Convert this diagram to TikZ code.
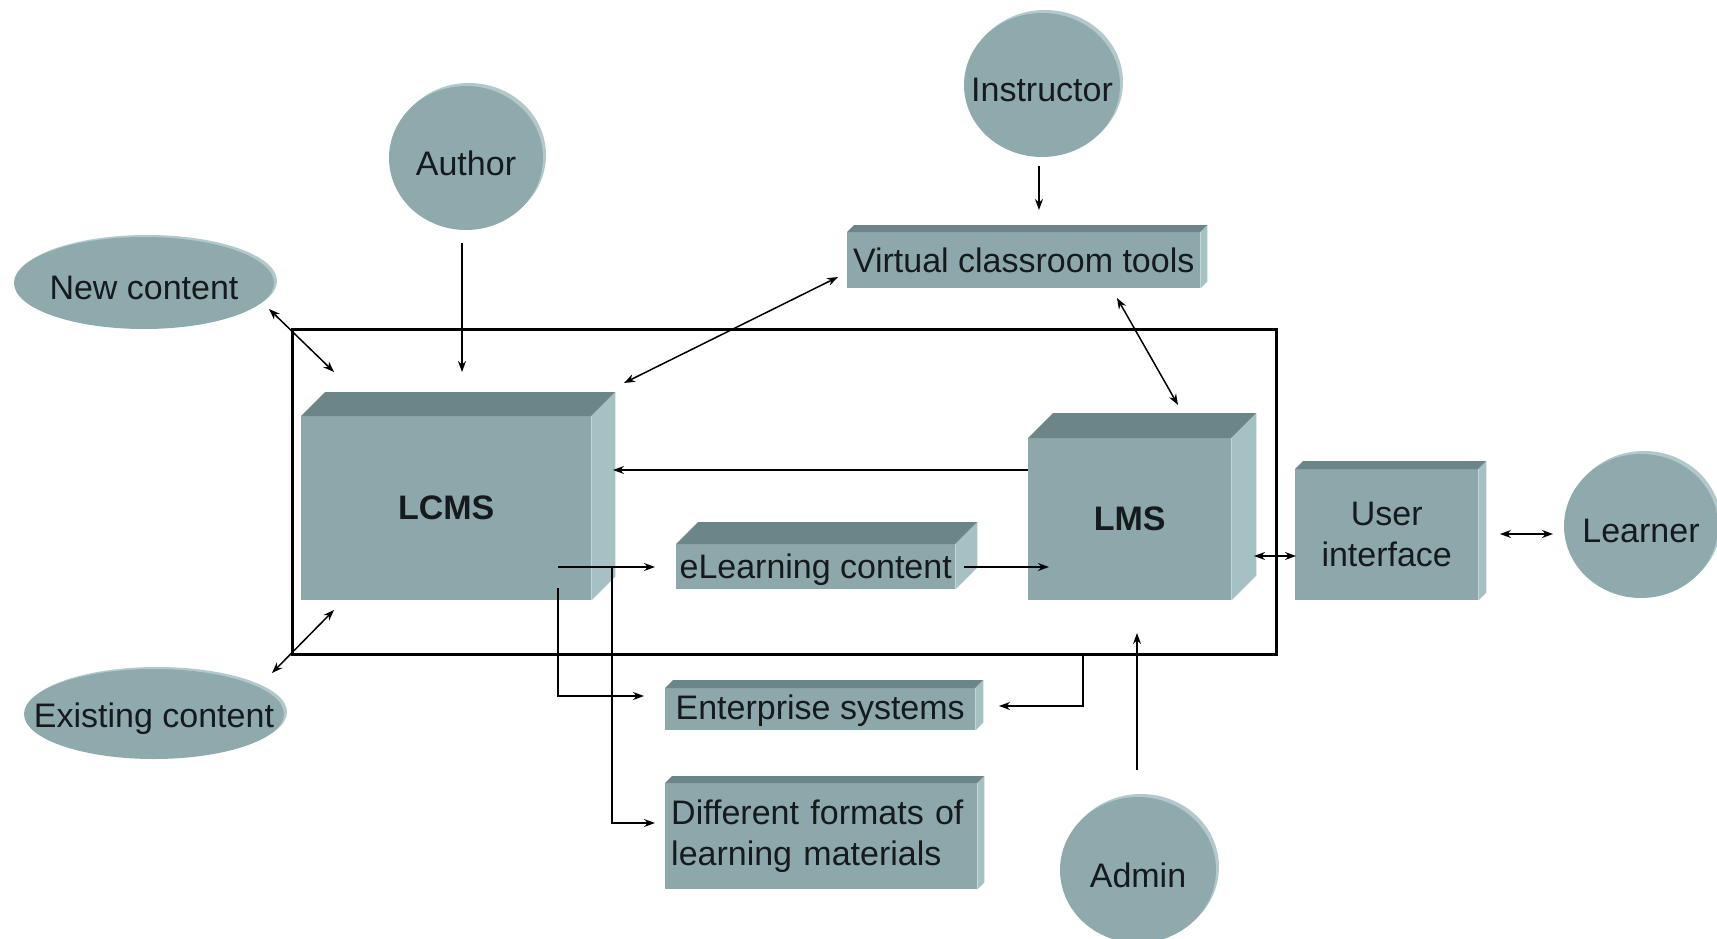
\documentclass[tikz,border=0pt]{standalone}
\usepackage{fontspec}
\setmainfont{Liberation Sans}
\usetikzlibrary{arrows.meta,shapes.geometric}
\definecolor{frontc}{RGB}{141,168,170}
\definecolor{topc}{RGB}{108,133,136}
\definecolor{sidec}{RGB}{165,193,196}
\definecolor{circc}{RGB}{142,170,173}
\definecolor{rimc}{RGB}{178,201,203}
\definecolor{txtc}{RGB}{22,26,28}
\newcommand{\cubefaces}[2]{%
  \fill[topc] (#1.north west) -- ++(#2,-#2) -- ([shift={(#2,-#2)}]#1.north east) -- (#1.north east) -- cycle;
  \fill[sidec] (#1.north east) -- ++(#2,-#2) -- ([shift={(#2,-#2)}]#1.south east) -- (#1.south east) -- cycle;}
% lower the visible text by #1 inside its node
\newcommand{\lowertext}[2]{\raisebox{0pt}[\dimexpr\height+#1\relax][\depth]{#2}}
\newcommand{\ztext}[1]{\lowertext{10pt}{\makebox[0pt][c]{#1}}}
\tikzset{
  >={Stealth[length=11pt,width=8pt]},
  boxnode/.style={fill=frontc, inner sep=0pt, anchor=north west, text=txtc,
    font=\fontsize{34}{41}\selectfont, align=center},
  circnode/.style={ellipse, fill=circc, inner sep=0pt, text=txtc,
    font=\fontsize{34}{41}\selectfont},
  conn/.style={line width=1.5pt, black},
  framebox/.style={draw=black, line width=3pt, inner sep=0pt, anchor=north west}
}
\begin{document}
\begin{tikzpicture}[x=1pt,y=-1pt]
\useasboundingbox (0,0) rectangle (1717,939);
\fill[white] (0,0) rectangle (1717,939);

% system frame
\node[framebox, minimum width=984pt, minimum height=325pt] (sys) at (291,328) {};

% 3D boxes
\node[boxnode, minimum width=290pt, minimum height=184pt] (lcms) at (301,416) {\textbf{LCMS}};
\cubefaces{lcms}{24}
\node[boxnode, minimum width=203pt, minimum height=162pt] (lms) at (1028,438) {\textbf{LMS}};
\cubefaces{lms}{25}
\node[boxnode, minimum width=183pt, minimum height=131pt] (ui) at (1295,469) {User\\interface};
\cubefaces{ui}{8}
\node[boxnode, minimum width=279pt, minimum height=45pt] (elc) at (676,544) {\lowertext{6pt}{eLearning content}};
\cubefaces{elc}{22}
\node[boxnode, minimum width=353pt, minimum height=56pt] (vct) at (847,232) {Virtual classroom tools};
\cubefaces{vct}{7}
\node[boxnode, minimum width=310pt, minimum height=42pt] (ent) at (665,688) {\lowertext{4pt}{Enterprise systems}};
\cubefaces{ent}{8}
\node[boxnode, minimum width=312pt, minimum height=106pt, text width=300pt, align=left] (fmt) at (665,783) {Different formats of\\learning materials};
\cubefaces{fmt}{7}

% actors (circles)
\fill[rimc] (469,155) ellipse [x radius=77pt, y radius=72pt];
\node[circnode, minimum width=154pt, minimum height=144pt] (author) at (466,158) {\ztext{Author}};
\fill[rimc] (1045,82) ellipse [x radius=78pt, y radius=72pt];
\node[circnode, minimum width=156pt, minimum height=144pt] (instr) at (1042,85) {\ztext{Instructor}};
\fill[rimc] (1644,523) ellipse [x radius=77pt, y radius=72pt];
\node[circnode, minimum width=154pt, minimum height=144pt] (learner) at (1641,526) {\ztext{Learner}};
\fill[rimc] (1141,867) ellipse [x radius=78pt, y radius=73pt];
\node[circnode, minimum width=156pt, minimum height=146pt] (admin) at (1138,870) {\ztext{Admin}};

% content ellipses
\fill[rimc] (147,281) ellipse [x radius=130pt, y radius=46pt];
\node[circnode, minimum width=260pt, minimum height=92pt] (newc) at (144,283) {\ztext{New content}};
\fill[rimc] (157,712) ellipse [x radius=130pt, y radius=45pt];
\node[circnode, minimum width=260pt, minimum height=90pt] (exc) at (154,714) {\ztext{Existing content}};

% connector end points
\coordinate (nc1) at (269,309);  \coordinate (nc2) at (334,372);
\coordinate (ex1) at (272,673);  \coordinate (ex2) at (334,610);
\coordinate (au1) at (462,243);  \coordinate (au2) at (462,372);
\coordinate (in1) at (1039,166); \coordinate (in2) at (1039,210);
\coordinate (lv1) at (624,383);  \coordinate (lv2) at (838,277);
\coordinate (vl1) at (1117,298); \coordinate (vl2) at (1178,405);
\coordinate (ml1) at (1028,470); \coordinate (ml2) at (613,470);
\coordinate (le1) at (558,567);  \coordinate (le2) at (655,567);
\coordinate (el1) at (964,567);  \coordinate (el2) at (1049,567);
\coordinate (lent1) at (558,588); \coordinate (lent2) at (644,696);
\coordinate (lf1) at (612,567);  \coordinate (lf2) at (655,823);
\coordinate (me1) at (1083,653); \coordinate (me2) at (999,706);
\coordinate (ad1) at (1137,770); \coordinate (ad2) at (1137,633);
\coordinate (mu1) at (1254,556); \coordinate (mu2) at (1296,556);
\coordinate (ul1) at (1500,534); \coordinate (ul2) at (1553,534);

% connectors
\draw[conn,<->] (nc1) -- (nc2);
\draw[conn,<->] (ex1) -- (ex2);
\draw[conn,->] (au1) -- (au2);
\draw[conn,->] (in1) -- (in2);
\draw[conn,<->] (lv1) -- (lv2);
\draw[conn,<->] (vl1) -- (vl2);
\draw[conn,->] (ml1) -- (ml2);
\draw[conn,->] (le1) -- (le2);
\draw[conn,->] (el1) -- (el2);
\draw[conn,->] (lent1) |- (lent2);
\draw[conn,->] (lf1) |- (lf2);
\draw[conn,->] (me1) |- (me2);
\draw[conn,->] (ad1) -- (ad2);
\draw[conn,<->] (mu1) -- (mu2);
\draw[conn,<->] (ul1) -- (ul2);
\end{tikzpicture}
\end{document}
